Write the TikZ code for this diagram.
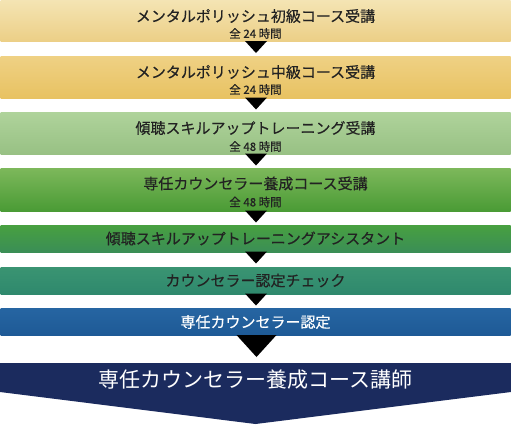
\documentclass[tikz,border=0pt]{standalone}
\usepackage{fontspec}
\setmainfont{Noto Sans CJK JP}
\newfontfamily\heavyjp[FakeBold=0.35]{Noto Sans CJK JP}
\usetikzlibrary{calc}
\definecolor{txt}{HTML}{222222}
\definecolor{c1t}{HTML}{F4E4B3}
\definecolor{c1b}{HTML}{ECCF86}
\definecolor{c2t}{HTML}{EFD184}
\definecolor{c2b}{HTML}{E8C262}
\definecolor{c3t}{HTML}{AFD39B}
\definecolor{c3b}{HTML}{98C184}
\definecolor{c4t}{HTML}{7DB85B}
\definecolor{c4b}{HTML}{4A9B35}
\definecolor{c5t}{HTML}{48A040}
\definecolor{c5b}{HTML}{3A8E56}
\definecolor{c6t}{HTML}{3A9472}
\definecolor{c6b}{HTML}{2F896D}
\definecolor{c7t}{HTML}{2665A2}
\definecolor{c7b}{HTML}{1E5A96}
\definecolor{navy}{HTML}{1B2B5E}
\begin{document}
\begin{tikzpicture}[x=1pt,y=1pt,
  box/.style={rectangle, draw=none, minimum width=510pt, inner sep=0pt, outer sep=0pt},
  ttl/.style={font=\heavyjp\fontsize{15}{15}\selectfont, text=txt, inner sep=0pt},
  subt/.style={font=\heavyjp\fontsize{11.5}{11.5}\selectfont, text=txt, inner sep=0pt},
  tri/.style={fill=black}]
\useasboundingbox (0,0) rectangle (511,-424);
% boxes
\node[box, minimum height=41pt, top color=c1t, bottom color=c1b] (b1) at (255.5,-21) {};
\node[box, minimum height=42pt, top color=c2t, bottom color=c2b] (b2) at (255.5,-77) {};
\node[box, minimum height=42pt, top color=c3t, bottom color=c3b] (b3) at (255.5,-133) {};
\node[box, minimum height=43pt, top color=c4t, bottom color=c4b] (b4) at (255.5,-189.5) {};
\node[box, minimum height=27pt, top color=c5t, bottom color=c5b] (b5) at (255.5,-238.5) {};
\node[box, minimum height=27pt, top color=c6t, bottom color=c6b] (b6) at (255.5,-280.5) {};
\node[box, minimum height=27pt, top color=c7t, bottom color=c7b] (b7) at (255.5,-321.5) {};
\node[box, minimum width=511pt, minimum height=29pt] (b8) at (255.5,-377.5) {};
\fill[navy] (b8.north west) -- (b8.north east) -- (b8.south east)
  -- ($(b8.south)+(0,-32)$) -- (b8.south west) -- cycle;
% arrows
\foreach \n in {b1,b2,b3,b4,b5,b6}{
  \fill[tri] ($(\n.south)+(-10.5,0.5)$) -- ($(\n.south)+(11.5,0.5)$) -- ($(\n.south)+(0.5,-11.5)$) -- cycle;
}
\fill[tri] ($(b7.south)+(-19,0)$) -- ($(b7.south)+(21,0)$) -- ($(b7.south)+(1,-22)$) -- cycle;
% texts
\node[ttl] (t1) at (255.5,-16) {メンタルポリッシュ初級コース受講};
\node[subt] (s1) at (255.5,-33.5) {全 24 時間};
\node[ttl] (t2) at (255.5,-72) {メンタルポリッシュ中級コース受講};
\node[subt] (s2) at (255.5,-89.5) {全 24 時間};
\node[ttl] (t3) at (255.5,-128) {傾聴スキルアップトレーニング受講};
\node[subt] (s3) at (255.5,-146.5) {全 48 時間};
\node[ttl] (t4) at (255.5,-183.5) {専任カウンセラー養成コース受講};
\node[subt] (s4) at (255.5,-202) {全 48 時間};
\node[ttl] (t5) at (255.5,-238.5) {傾聴スキルアップトレーニングアシスタント};
\node[ttl] (t6) at (255.5,-280.5) {カウンセラー認定チェック};
\node[ttl, text=white] (t7) at (255.5,-322) {専任カウンセラー認定};
\node[font=\fontsize{21}{21}\selectfont, text=white, inner sep=0pt] (t8) at (255.5,-380) {専任カウンセラー養成コース講師};
\end{tikzpicture}
\end{document}
